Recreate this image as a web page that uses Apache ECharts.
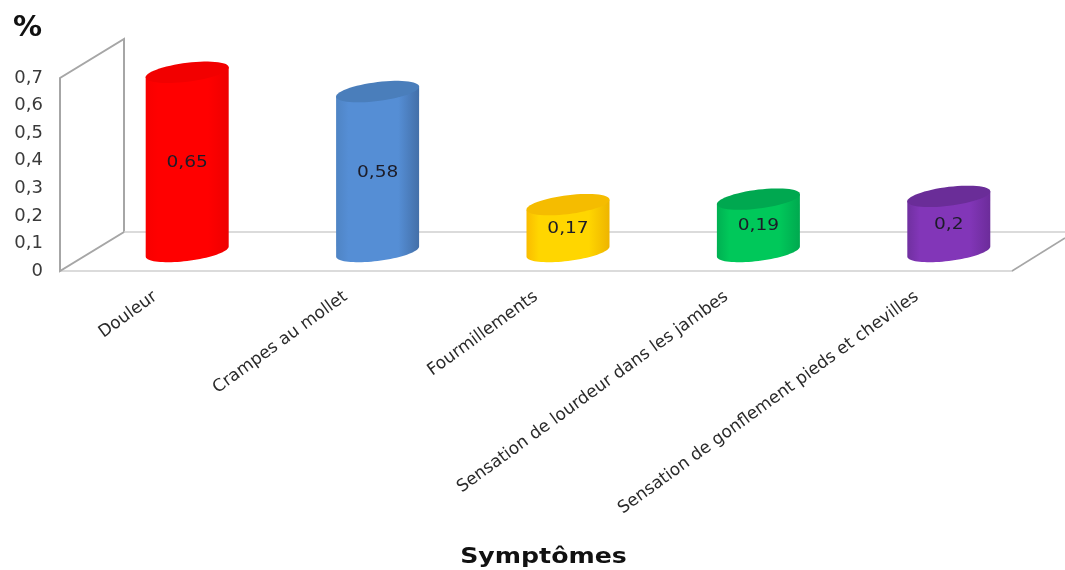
<!DOCTYPE html>
<html><head><meta charset="utf-8">
<script src="https://cdn.jsdelivr.net/npm/echarts@6/dist/echarts.min.js"></script>
<style>html,body{margin:0;padding:0;background:#fff}#c{width:1065px;height:570px}</style>
</head><body><div id="c"></div>
<script>
const categories = ['Douleur','Crampes au mollet','Fourmillements','Sensation de lourdeur dans les jambes','Sensation de gonflement pieds et chevilles'];
const values = [0.65,0.58,0.17,0.19,0.2];
const bodyLeft  = ['#f80000','#4f84c4','#fabc00','#00b052','#7030a0'];
const bodyMid   = ['#ff0000','#558ed5','#ffd600','#00c85a','#8236b8'];
const bodyRight = ['#ee0000','#436fa8','#eeb400','#00a94f','#6c2c9a'];
const capColors = ['#f20000','#4a7ebb','#f5bc00','#00a850','#6a2d98'];

const DEPTH_X = 64, DEPTH_Y = -39, RX = 41.5, SKEW = 5, RY = 9.5;
const comma = v => String(v).replace('.', ',');

function ring(cx, cy, from, to, n) {
  const pts = [];
  for (let i = 0; i <= n; i++) {
    const t = from + (to - from) * i / n;
    pts.push([cx + RX * Math.cos(t), cy - SKEW * Math.cos(t) + RY * Math.sin(t)]);
  }
  return pts;
}
function renderCylinder(params, api) {
  const i = api.value(0), v = api.value(1);
  const base = api.coord([i, 0]), top = api.coord([i, v]);
  const cx = base[0] + DEPTH_X / 2, by = base[1] + DEPTH_Y / 2, ty = top[1] + DEPTH_Y / 2;
  const front = ring(cx, by, 0, Math.PI, 40);
  const body = [[cx - RX, ty + SKEW], [cx + RX, ty - SKEW]].concat(front);
  return {type:'group', children:[
    {type:'polygon', shape:{points:body}, style:{fill:new echarts.graphic.LinearGradient(0,0,1,0,[
      {offset:0,color:bodyLeft[i]},{offset:0.15,color:bodyMid[i]},{offset:0.75,color:bodyMid[i]},{offset:1,color:bodyRight[i]}])}},
    {type:'polygon', shape:{points:ring(cx, ty, 0, Math.PI*2, 60)}, style:{fill:capColors[i]}},
    {type:'text', x:cx, y:(ty+by)/2+1, scaleX:1.16,
      style:{text:comma(v), x:0, y:0, align:'center', verticalAlign:'middle',
      font:'16px "DejaVu Sans"', fill:'#1c1c28'}}
  ]};
}
function renderFrame(params, api) {
  const cs = params.coordSys;
  const l = cs.x, r = cs.x + cs.width, t = cs.y, b = cs.y + cs.height;
  return {type:'group', children:[
    {type:'polygon', shape:{points:[[l,b],[l,t],[l+DEPTH_X,t+DEPTH_Y],[l+DEPTH_X,b+DEPTH_Y]]},
      style:{fill:'#fff', stroke:'#a6a6a6', lineWidth:2}},
    {type:'line', shape:{x1:l+DEPTH_X,y1:b+DEPTH_Y,x2:1065,y2:b+DEPTH_Y}, style:{stroke:'#cfcfcf', lineWidth:1.5}},
    {type:'line', shape:{x1:r,y1:b,x2:r+53,y2:b-33}, style:{stroke:'#a6a6a6', lineWidth:1.5}}
  ]};
}
const chart = echarts.init(document.getElementById('c'), null, {renderer:'canvas'});
chart.setOption({
  animation:false, backgroundColor:'#fff',
  grid:{left:60, right:53, top:78, bottom:299},
  xAxis:{type:'category', data:categories,
    axisLine:{lineStyle:{color:'#cfcfcf', width:1.5}}, axisTick:{show:false},
    axisLabel:{interval:0, rotate:36, margin:24, fontFamily:'DejaVu Sans', fontSize:17, color:'#2a2a2a'}},
  yAxis:{type:'value', min:0, max:0.7, interval:0.1,
    axisLine:{show:false}, axisTick:{show:false}, splitLine:{show:false},
    axisLabel:{formatter:comma, margin:17, padding:[6,0,0,0], fontFamily:'DejaVu Sans', fontSize:18, color:'#3a3a3a'},
    name:'%', nameLocation:'end', nameGap:35,
    nameTextStyle:{fontFamily:'DejaVu Sans', fontWeight:'bold', fontSize:29, color:'#111', align:'right', padding:[0,18,0,0]}},
  graphic:[{type:'text', x:543.5, y:558, scaleX:1.2,
    style:{text:'Symptômes', x:0, y:0, align:'center', verticalAlign:'middle',
      font:'bold 21px "DejaVu Sans"', fill:'#111'}}],
  series:[
    {type:'custom', z:1, silent:true, data:[[0,0]], renderItem:renderFrame, clip:false},
    {type:'custom', z:3, data:values.map((v,i)=>[i,v]), renderItem:renderCylinder, clip:false,
      encode:{x:0,y:1}}
  ]
});
</script></body></html>
